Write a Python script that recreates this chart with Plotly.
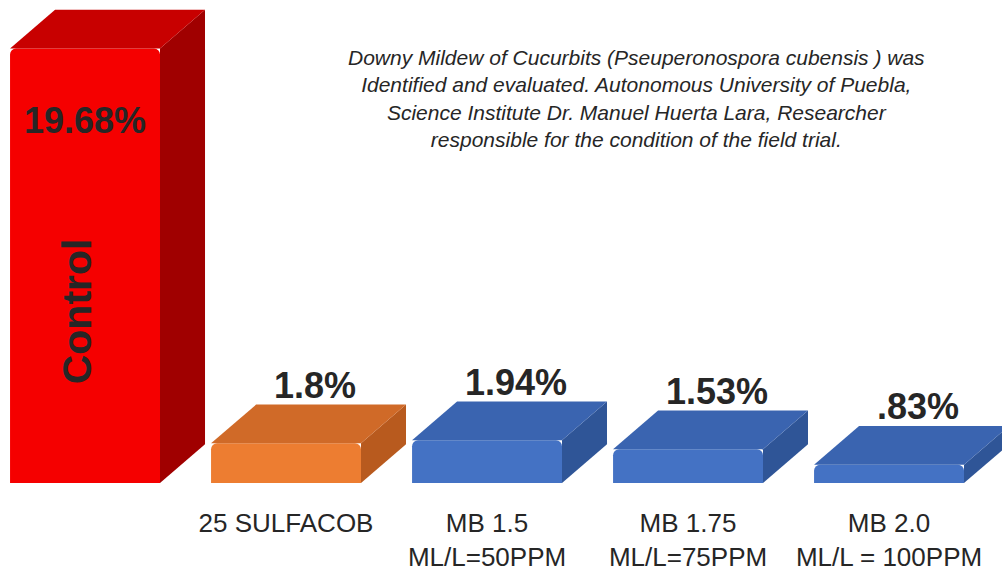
import plotly.graph_objects as go

categories = ["Control", "25 SULFACOB", "MB 1.5<br>ML/L=50PPM", "MB 1.75<br>ML/L=75PPM", "MB 2.0<br>ML/L = 100PPM"]
tick_labels = ["", "25 SULFACOB", "MB 1.5<br>ML/L=50PPM", "MB 1.75<br>ML/L=75PPM", "MB 2.0<br>ML/L = 100PPM"]
values = [19.68, 1.8, 1.94, 1.53, 0.83]
value_labels = ["19.68%", "1.8%", "1.94%", "1.53%", ".83%"]
front_colors = ["#F50000", "#ED7D31", "#4472C4", "#4472C4", "#4472C4"]
top_colors = ["#C80000", "#D06A28", "#3A64B0", "#3A64B0", "#3A64B0"]
side_colors = ["#A00000", "#B85A1E", "#2F5597", "#2F5597", "#2F5597"]
note = ("Downy Mildew of Cucurbits (Pseuperonospora cubensis ) was<br>"
        "Identified and evaluated. Autonomous University of Puebla,<br>"
        "Science Institute Dr. Manuel Huerta Lara, Researcher<br>"
        "responsible for the condition of the field trial.")

W = 0.746   # bar width (x units)
DX = 0.224  # depth offset x
DY = 1.75   # depth offset y

xs = list(range(len(values)))
fig = go.Figure()

for i, v in enumerate(values):
    xl, xr = i - W / 2, i + W / 2
    # side face
    fig.add_trace(go.Scatter(
        x=[xr, xr + DX, xr + DX, xr, xr], y=[0, DY, v + DY, v, 0],
        fill="toself", fillcolor=side_colors[i], mode="lines",
        line=dict(width=0, color=side_colors[i]), hoverinfo="skip", showlegend=False))
    # top face
    fig.add_trace(go.Scatter(
        x=[xl, xr, xr + DX, xl + DX, xl], y=[v, v, v + DY, v + DY, v],
        fill="toself", fillcolor=top_colors[i], mode="lines",
        line=dict(width=0, color=top_colors[i]), hoverinfo="skip", showlegend=False))

fig.add_trace(go.Bar(x=xs, y=values, width=W, marker=dict(color=front_colors, line=dict(width=0)),
                     hoverinfo="skip", showlegend=False))

font_b = "Liberation Sans, Arial, sans-serif"
for i, v in enumerate(values):
    if i == 0:
        fig.add_annotation(x=i, y=v, yref="y", text="<b>" + value_labels[i] + "</b>",
                           showarrow=False, yanchor="top", yshift=-50,
                           font=dict(family=font_b, size=36, color="#262626"))
        fig.add_annotation(x=i - 0.04, y=v * 0.395, text="<b>" + categories[i] + "</b>",
                           showarrow=False, textangle=-90,
                           font=dict(family=font_b, size=41, color="#262626"))
    else:
        fig.add_annotation(x=i + DX / 2 + 0.03, y=v + DY, text="<b>" + value_labels[i] + "</b>",
                           showarrow=False, yanchor="bottom", yshift=-3,
                           font=dict(family=font_b, size=36, color="#262626"))

fig.add_annotation(x=0.635, xref="paper", y=0.92, yref="paper", text="<i>" + note + "</i>",
                   showarrow=False, align="center", yanchor="top",
                   font=dict(family=font_b, size=21, color="#262626"))

fig.update_layout(
    width=1002, height=573,
    margin=dict(l=0, r=0, t=6, b=90),
    paper_bgcolor="white", plot_bgcolor="white",
    barcornerradius=6,
    xaxis=dict(range=[-0.423, 4.562], tickvals=xs, ticktext=tick_labels, showgrid=False,
               zeroline=False, showline=False, ticks="", ticklabelstandoff=22, automargin=False,
               tickfont=dict(family=font_b, size=26, color="#262626"), fixedrange=True),
    yaxis=dict(range=[0, 21.6], visible=False, fixedrange=True),
)

fig.write_html("out.html", config={"displayModeBar": False},
               post_script="document.body.style.margin='0';")
